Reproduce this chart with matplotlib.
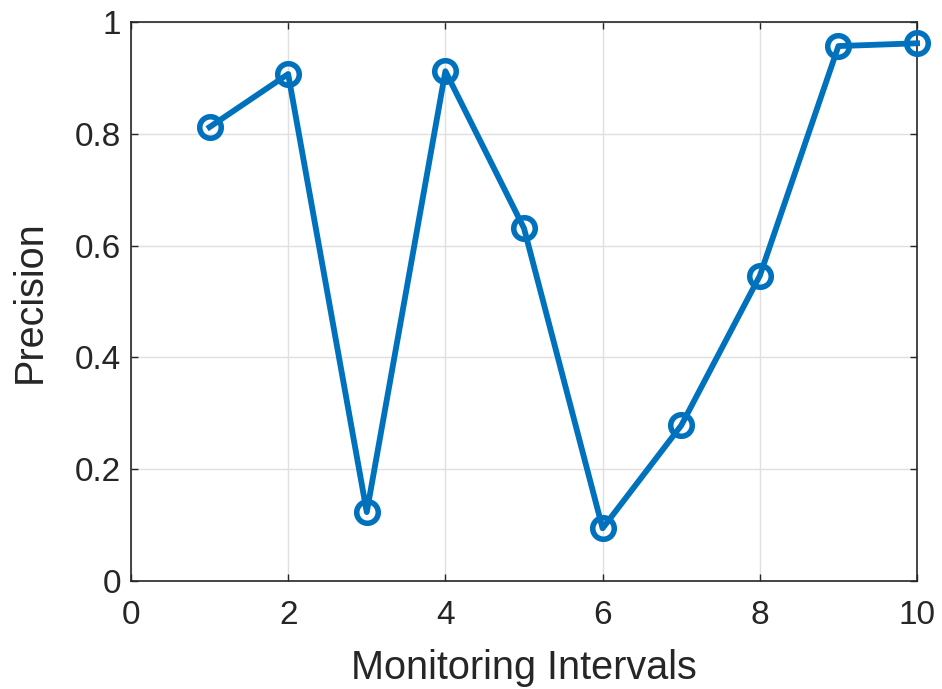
import matplotlib
matplotlib.use("Agg")
import matplotlib.pyplot as plt
from matplotlib.ticker import FuncFormatter

# precision per monitoring interval
intervals = [1, 2, 3, 4, 5, 6, 7, 8, 9, 10]
precision = [0.812, 0.907, 0.123, 0.912, 0.631, 0.094, 0.278, 0.546, 0.957, 0.962]

xticks = [0, 2, 4, 6, 8, 10]
yticks = [0, 0.2, 0.4, 0.6, 0.8, 1.0]

BLUE = "#0072BD"; INK = "#262626"; GRID = "#e0e0e0"

plt.rcParams["font.family"] = ["Liberation Sans", "DejaVu Sans"]

fig = plt.figure(figsize=(9.42, 6.89), dpi=100)
ax = fig.add_axes([0.139, 0.157, 0.8345, 0.811])

ax.plot(intervals, precision, "-o", color=BLUE, lw=4.2, ms=15.5,
        mfc="none", mec=BLUE, mew=4.0, zorder=3, clip_on=False)

ax.set_xlim(0, 10); ax.set_ylim(0, 1)
ax.set_xticks(xticks); ax.set_yticks(yticks)
ax.yaxis.set_major_formatter(FuncFormatter(lambda v, _: "%g" % v))
ax.grid(True, color=GRID, lw=1.0, zorder=0)
ax.set_axisbelow(True)
ax.tick_params(direction="in", length=5, width=1, colors=INK, labelsize=24,
               top=True, right=True)
ax.tick_params(axis="x", pad=14)
ax.tick_params(axis="y", pad=7)
for s in ax.spines.values():
    s.set_color(INK); s.set_linewidth(1.2)
ax.set_xlabel("Monitoring Intervals", fontsize=28.5, color=INK, labelpad=13)
ax.set_ylabel("Precision", fontsize=28.5, color=INK, labelpad=19)

fig.savefig("out.png", dpi=100)
